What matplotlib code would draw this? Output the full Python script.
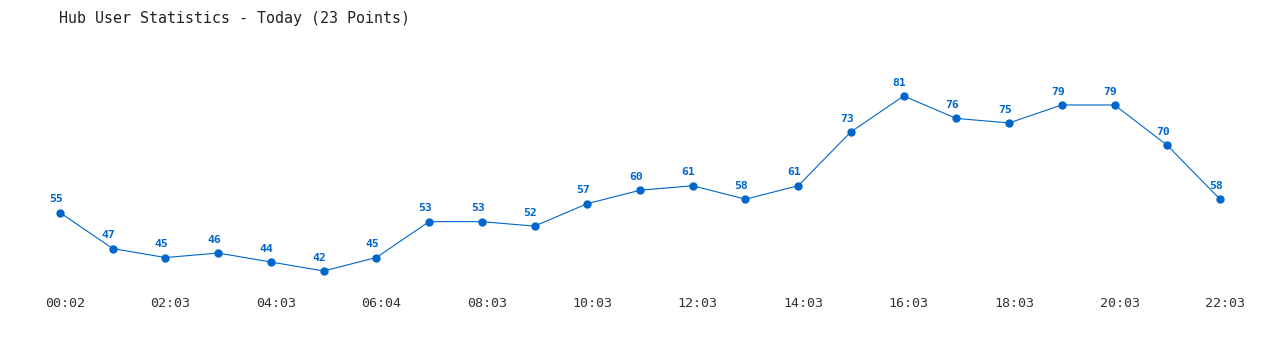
import matplotlib
matplotlib.use('Agg')
import matplotlib.pyplot as plt
import matplotlib.transforms as mtransforms

# Hourly hub user counts for today
times = ['00:02', '01:03', '02:03', '03:03', '04:03', '05:03', '06:04', '07:03',
         '08:03', '09:03', '10:03', '11:03', '12:03', '13:03', '14:03', '15:03',
         '16:03', '17:03', '18:03', '19:03', '20:03', '21:03', '22:03']
users = [55, 47, 45, 46, 44, 42, 45, 53, 53, 52, 57, 60, 61, 58, 61, 73,
         81, 76, 75, 79, 79, 70, 58]

LINE_COLOR = '#0066cc'
FONT = 'DejaVu Sans Mono'

fig = plt.figure(figsize=(12.8, 3.5), dpi=100)
# plot area: x index 0..22, y 42..81 mapped onto the inner band
ax = fig.add_axes([60 / 1280, 79 / 350, 1160 / 1280, 175 / 350])

xs = list(range(len(users)))
ax.plot(xs, users, color=LINE_COLOR, linewidth=0.8, marker='o', markersize=5,
        clip_on=False)

for x, v in zip(xs, users):
    ax.annotate(str(v), (x, v), xytext=(-3, 6), textcoords='offset points',
                ha='center', va='bottom', fontsize=8.2, fontweight='bold',
                color=LINE_COLOR, family=FONT)

ax.set_xlim(0, len(users) - 1)
ax.set_ylim(min(users), max(users))
ax.set_xticks(xs[::2])
ax.set_xticklabels(times[::2], family=FONT, fontsize=9.6, color='#333333')
ax.tick_params(axis='x', length=0, pad=18.5)
# nudge the time labels a little to the right
shift = mtransforms.ScaledTranslation(5 / 100, 0, fig.dpi_scale_trans)
for lbl in ax.get_xticklabels():
    lbl.set_transform(lbl.get_transform() + shift)
ax.set_yticks([])
for s in ax.spines.values():
    s.set_visible(False)

fig.text(59 / 1280, 1 - 18 / 350, 'Hub User Statistics - Today (23 Points)',
         family=FONT, fontsize=10.8, color='#222222', va='center', ha='left')

fig.savefig('out.png', dpi=100, facecolor='white')
